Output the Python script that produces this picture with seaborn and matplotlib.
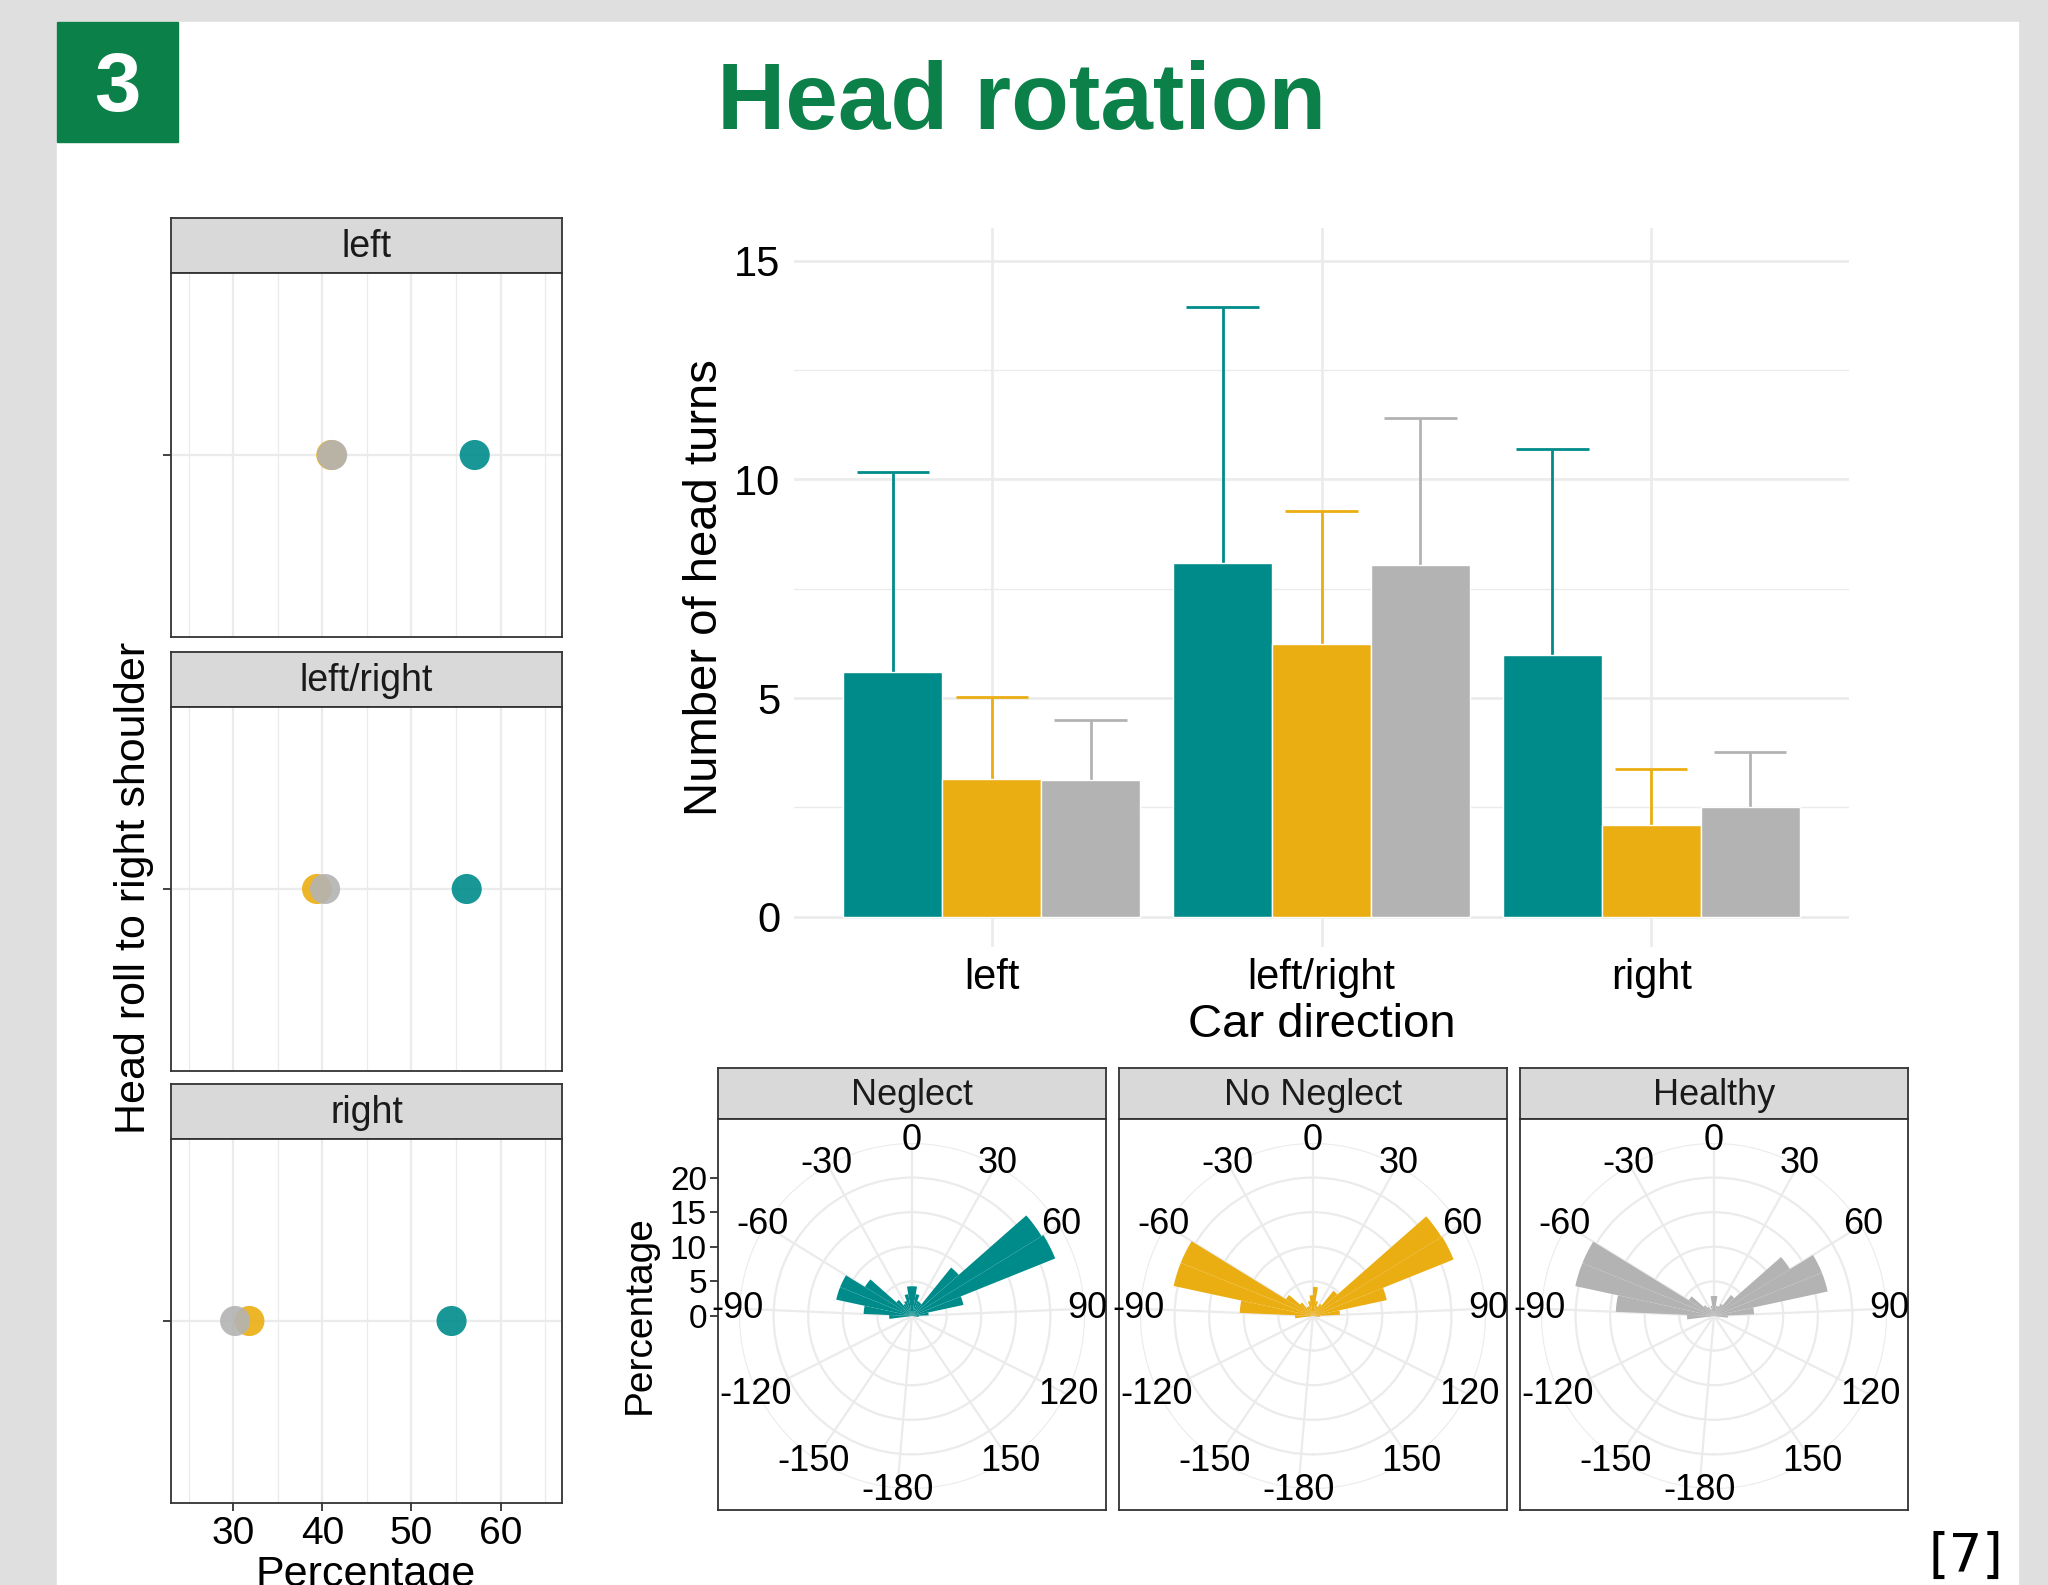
import numpy as np
import pandas as pd
import seaborn as sns
import matplotlib.pyplot as plt
from matplotlib.patches import Rectangle

W, H = 2048, 1585

groups = ["Neglect", "No Neglect", "Healthy"]
colors = ["#008B8B", "#EBAE12", "#B3B3B3"]
directions = ["left", "left/right", "right"]

# number of head turns per car direction: mean and mean + sd
turns_neglect = [5.59, 8.10, 5.98]
turns_no_neglect = [3.14, 6.24, 2.09]
turns_healthy = [3.12, 8.04, 2.51]
turns_upper_neglect = [10.16, 13.95, 10.70]
turns_upper_no_neglect = [5.02, 9.29, 3.38]
turns_upper_healthy = [4.51, 11.41, 3.76]

# head roll to right shoulder (%) per car direction
roll_neglect = [57.1, 56.2, 54.5]
roll_no_neglect = [41.0, 39.4, 31.8]
roll_healthy = [41.1, 40.3, 30.2]

# head rotation histogram, 10 degree bins (percentage)
bin_centres = [-95, -85, -75, -65, -55, -45, -35, -25, -15, -5,
               5, 15, 25, 35, 45, 55, 65, 75, 85, 95]
rot_neglect = [3.3, 7.0, 11.2, 11.2, 8.0, 3.0, 2.0, 2.3, 3.2, 4.3,
               4.3, 3.2, 2.3, 2.2, 9.0, 22.0, 22.3, 7.6, 2.4, 1.0]
rot_no_neglect = [2.6, 10.6, 20.6, 20.6, 4.6, 2.5, 1.5, 1.5, 2.2, 3.0,
                  4.2, 2.2, 1.5, 2.0, 4.7, 21.8, 21.9, 10.9, 3.9, 1.0]
rot_healthy = [3.9, 14.2, 20.5, 20.5, 4.3, 2.0, 1.5, 1.0, 1.5, 2.9,
               2.9, 1.5, 1.5, 2.0, 3.9, 12.9, 16.8, 16.8, 5.8, 2.0]
theta_ticks = list(range(-180, 180, 30))

turns_df = pd.DataFrame({
    "direction": directions * 3,
    "group": np.repeat(groups, 3),
    "turns": turns_neglect + turns_no_neglect + turns_healthy,
    "upper": turns_upper_neglect + turns_upper_no_neglect + turns_upper_healthy,
})
roll_df = pd.DataFrame({
    "direction": directions * 3,
    "group": np.repeat(groups, 3),
    "pct": roll_neglect + roll_no_neglect + roll_healthy,
    "row": 1.0,
})
rotations = [rot_neglect, rot_no_neglect, rot_healthy]

sns.set_theme(style="white")
plt.rcParams["font.family"] = ["Liberation Sans", "DejaVu Sans"]
plt.rcParams["text.color"] = "black"
plt.rcParams["axes.labelcolor"] = "black"
plt.rcParams["xtick.labelcolor"] = "black"
plt.rcParams["ytick.labelcolor"] = "black"

GREEN = "#0B8149"
GRID = "#EBEBEB"
EDGE = "#333333"


def box(x0, y0, x1, y1):
    # pixel box (top-left origin) -> figure fraction
    return [x0 / W, 1 - y1 / H, (x1 - x0) / W, (y1 - y0) / H]


def strip(rect, label, size):
    ax = fig.add_axes(box(*rect))
    ax.set_facecolor("#D9D9D9")
    ax.set_xticks([])
    ax.set_yticks([])
    for s in ax.spines.values():
        s.set_color(EDGE)
        s.set_linewidth(1.3)
    ax.text(0.5, 0.47, label, ha="center", va="center", fontsize=size,
            color="#1A1A1A", transform=ax.transAxes)


fig = plt.figure(figsize=(W / 100, H / 100), dpi=100)
fig.patch.set_facecolor("#DFDFDF")
fig.add_artist(Rectangle((57 / W, 0), (2018 - 57) / W, 1 - 22 / H,
                         transform=fig.transFigure, color="white", zorder=0))
fig.add_artist(Rectangle((57 / W, 1 - 142 / H), 121 / W, 120 / H,
                         transform=fig.transFigure, color=GREEN, zorder=1))
fig.text(117.5 / W, 1 - 89 / H, "3", color="white", fontsize=60,
         fontweight="bold", ha="center", va="center")
fig.text(1022 / W, 1 - 104 / H, "Head rotation", color=GREEN, fontsize=68,
         fontweight="bold", ha="center", va="center")
fig.text(1966 / W, 1 - 1557 / H, "[7]", fontsize=38, family="DejaVu Sans",
         ha="center", va="center", color="black")

# ---- left: head roll dot plots ----
strip_y = [(218, 273), (652, 707), (1084, 1139)]
body_y = [(273, 637), (707, 1071), (1139, 1503)]
for i, d in enumerate(directions):
    strip((171, strip_y[i][0], 562, strip_y[i][1]), d, 27)
    ax = fig.add_axes(box(171, body_y[i][0], 562, body_y[i][1]))
    sub = roll_df[roll_df["direction"] == d]
    sns.scatterplot(data=sub, x="pct", y="row", hue="group", hue_order=groups,
                    palette=colors, s=470, alpha=0.9, linewidth=0,
                    legend=False, ax=ax, zorder=3)
    ax.set_xlim(23.0, 66.9)
    ax.set_ylim(0.4, 1.6)
    ax.set_xticks([30, 40, 50, 60])
    ax.set_xticks([25, 35, 45, 55, 65], minor=True)
    ax.set_yticks([1])
    ax.set_yticklabels([])
    ax.grid(which="major", color=GRID, lw=1.6)
    ax.grid(which="minor", axis="x", color=GRID, lw=0.9)
    ax.set_axisbelow(True)
    ax.set_xlabel("")
    ax.set_ylabel("")
    for s in ax.spines.values():
        s.set_color(EDGE)
        s.set_linewidth(1.3)
    ax.tick_params(axis="y", left=True, length=6, width=1.3, color=EDGE)
    if i == 2:
        ax.tick_params(axis="x", which="major", bottom=True, length=6,
                       width=1.3, color=EDGE, labelsize=28, pad=3)
        ax.tick_params(axis="x", which="minor", bottom=False)
        ax.set_xticklabels(["30", "40", "50", "60"])
    else:
        ax.tick_params(axis="x", which="both", bottom=False, labelbottom=False)

fig.text(366 / W, 1 - 1575 / H, "Percentage", fontsize=31, ha="center",
         va="center")
fig.text(134 / W, 1 - 888 / H, "Head roll to right shoulder", fontsize=31,
         rotation=90, ha="center", va="center")

# ---- right top: head turns bar chart ----
ax = fig.add_axes(box(794, 228, 1849, 947))
sns.barplot(data=turns_df, x="direction", y="turns", hue="group",
            hue_order=groups, palette=colors, errorbar=None, width=0.9,
            saturation=1, legend=False, ax=ax, zorder=3)
for g, cont, col in zip(groups, ax.containers, colors):
    ups = turns_df.loc[turns_df["group"] == g, "upper"].values
    for bar, up in zip(cont, ups):
        xc = bar.get_x() + bar.get_width() / 2
        ax.vlines(xc, bar.get_height(), up, color=col, lw=2, zorder=2)
        ax.hlines(up, xc - 0.11, xc + 0.11, color=col, lw=2, zorder=2)
ax.set_xlim(-0.6, 2.6)
ax.set_ylim(-0.69, 15.75)
ax.set_yticks([0, 5, 10, 15])
ax.set_yticks([2.5, 7.5, 12.5], minor=True)
ax.grid(axis="y", which="major", color=GRID, lw=1.9)
ax.grid(axis="y", which="minor", color=GRID, lw=1.0)
ax.grid(axis="x", which="major", color=GRID, lw=1.9)
ax.set_axisbelow(True)
sns.despine(ax=ax, left=True, bottom=True)
ax.tick_params(axis="both", which="both", length=0, labelsize=30)
ax.tick_params(axis="y", pad=10)
ax.tick_params(axis="x", pad=8)
ax.set_xlabel("Car direction", fontsize=34)
ax.set_ylabel("Number of head turns", fontsize=34)
ax.xaxis.set_label_coords(0.5, -0.108)
ax.xaxis.label.set_va("center")
ax.yaxis.set_label_coords(-0.084, 0.5)
ax.yaxis.label.set_va("center")

# ---- right bottom: polar histograms of head rotation ----
theta_scale = 360 / 370  # theta axis spans -185..185 degrees
R = 173
cy = 1316
panels_x = [(718, 1106), (1119, 1507), (1520, 1908)]
for i, (g, vals, col) in enumerate(zip(groups, rotations, colors)):
    x0, x1 = panels_x[i]
    cx = (x0 + x1) / 2
    strip((x0, 1068, x1, 1119), g, 26)
    frame = fig.add_axes(box(x0, 1119, x1, 1510))
    frame.set_facecolor("white")
    frame.set_xticks([])
    for s in frame.spines.values():
        s.set_color(EDGE)
        s.set_linewidth(1.3)
    px_unit = R / 25
    frame.set_ylim(-(1510 - cy) / px_unit, (cy - 1119) / px_unit)
    if i == 0:
        frame.set_yticks([0, 5, 10, 15, 20])
        frame.tick_params(axis="y", left=True, length=6, width=1.3,
                          color=EDGE, labelsize=24, pad=2)
    else:
        frame.set_yticks([])

    pax = fig.add_axes(box(cx - R, cy - R, cx + R, cy + R), projection="polar")
    pax.set_facecolor("none")
    pax.set_theta_zero_location("N")
    pax.set_theta_direction(-1)
    pax.bar(np.deg2rad(np.array(bin_centres) * theta_scale), vals,
            width=np.deg2rad(10 * theta_scale), color=col, linewidth=0,
            zorder=3)
    pax.set_xlim(-np.pi, np.pi)
    pax.set_ylim(0, 25)
    pax.set_yticks([5, 10, 15, 20, 25])
    pax.set_yticklabels([])
    pax.set_xticks(np.deg2rad(np.array(theta_ticks) * theta_scale))
    pax.set_xticklabels([])
    pax.grid(color=GRID, lw=1.6)
    for sp in pax.spines.values():
        sp.set_visible(False)
    for t in theta_ticks:
        txt = pax.text(np.deg2rad(t * theta_scale), 25.3, str(t),
                       ha="center", va="center", fontsize=26, zorder=4)
        txt.set_clip_box(frame.bbox)

fig.text(640 / W, 1 - 1315 / H, "Percentage", fontsize=28, rotation=90,
         ha="center", va="center")

fig.savefig("out.png", dpi=100)
